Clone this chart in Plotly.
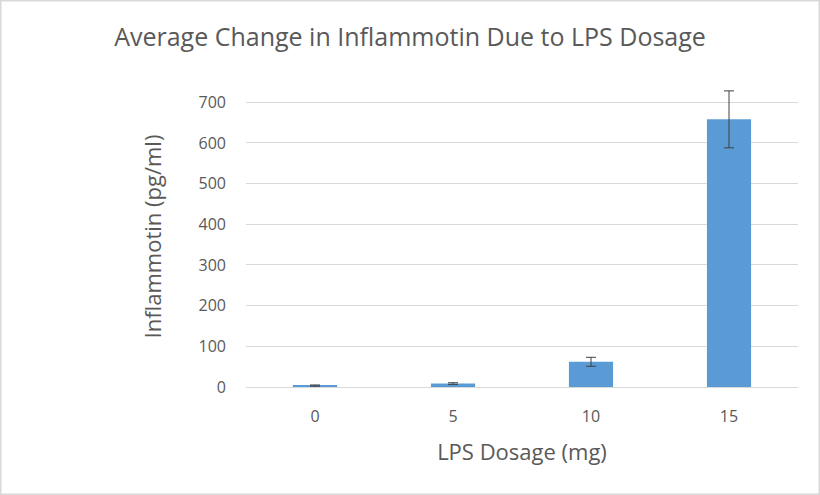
import plotly.graph_objects as go

categories = ["0", "5", "10", "15"]
means = [3.5, 8.5, 62, 658]
errors = [1.5, 2, 11, 70]
y_ticks = [0, 100, 200, 300, 400, 500, 600, 700]

W, H = 820, 495
ml, mr, mt, mb = 246, 22, 86, 108
pw, ph = W - ml - mr, H - mt - mb

txt = "#595959"
font = "Open Sans"

fig = go.Figure(go.Bar(
    x=categories, y=means,
    marker=dict(color="#5B9BD5", line=dict(width=0)),
    error_y=dict(type="data", array=errors, visible=True, color="#404040", thickness=1, width=5),
    cliponaxis=False,
))

fig.update_layout(
    width=W, height=H,
    margin=dict(l=ml, r=mr, t=mt, b=mb),
    paper_bgcolor="white", plot_bgcolor="white",
    bargap=0.68,
    showlegend=False,
    title=dict(text="Average Change in Inflammotin Due to LPS Dosage",
               x=0.5, xref="container", xanchor="center",
               y=1 - 37 / H, yanchor="middle",
               font=dict(family=font, size=25, color=txt)),
    font=dict(family=font, color=txt),
    shapes=[dict(type="rect", xref="paper", yref="paper",
                 x0=-ml / pw + 0.75 / pw, x1=1 + mr / pw - 0.75 / pw,
                 y0=-mb / ph + 0.75 / ph, y1=1 + mt / ph - 0.75 / ph,
                 line=dict(color="#D9D9D9", width=1.5), layer="below")],
)

fig.update_xaxes(
    type="category",
    showgrid=False, zeroline=False, showline=False,
    ticks="", ticklabelstandoff=18,
    tickfont=dict(family=font, size=16, color=txt),
    title=dict(text="LPS Dosage (mg)", standoff=18,
               font=dict(family=font, size=22, color=txt)),
)

fig.update_yaxes(
    range=[0, 740],
    tickvals=y_ticks,
    showgrid=True, gridcolor="#D9D9D9", gridwidth=1,
    zeroline=True, zerolinecolor="#D9D9D9", zerolinewidth=1,
    showline=False, ticks="", ticklabelstandoff=19,
    tickfont=dict(family=font, size=16, color=txt),
    title=dict(text="Inflammotin (pg/ml)", standoff=30,
               font=dict(family=font, size=22, color=txt)),
)

fig.write_html("out.html", config={"displayModeBar": False},
               post_script="document.body.style.margin='0px';")
